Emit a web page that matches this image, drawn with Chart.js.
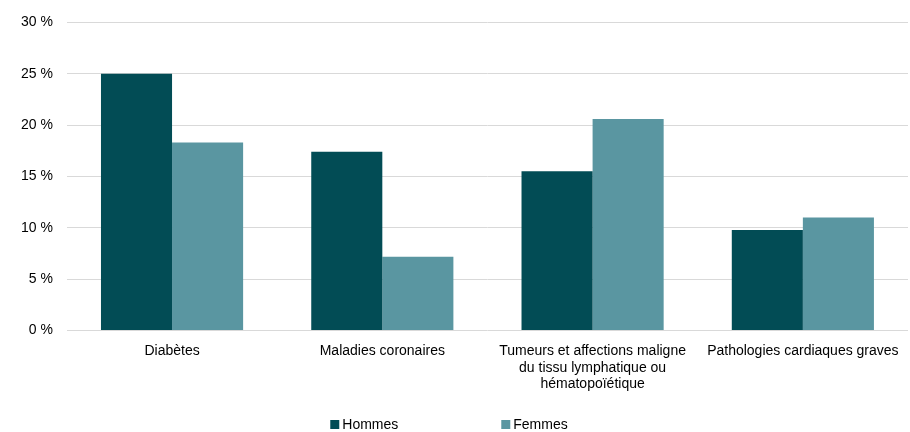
<!DOCTYPE html>
<html>
<head>
<meta charset="utf-8">
<script src="https://cdn.jsdelivr.net/npm/chart.js@4/dist/chart.umd.min.js"></script>
<style>
  body { margin: 0; background: #fff; }
  #wrap { width: 910px; height: 432px; }
</style>
</head>
<body>
<div id="wrap"><canvas id="chart" width="910" height="432"></canvas></div>
<script>
// categories and values (percent)
var categories = [
  "Diabètes",
  "Maladies coronaires",
  ["Tumeurs et affections maligne", "du tissu lymphatique ou", "hématopoïétique"],
  "Pathologies cardiaques graves"
];
var hommes = [25.0, 17.4, 15.5, 9.8];
var femmes = [18.3, 7.2, 20.6, 11.0];
var seriesNames = ["Hommes", "Femmes"];
var seriesColors = ["#024c55", "#5a96a1"];
var yTicks = [0, 5, 10, 15, 20, 25, 30];

Chart.defaults.font.family = "'Liberation Sans', Arial, sans-serif";
Chart.defaults.font.size = 14;
Chart.defaults.color = "#000";

// legend with wide gap between the two items, drawn at the bottom
var wideLegend = {
  id: "wideLegend",
  afterDraw: function (chart) {
    var ctx = chart.ctx;
    var gap = 103, box = 9, textGap = 3;
    ctx.save();
    ctx.font = "14px 'Liberation Sans', Arial, sans-serif";
    ctx.textBaseline = "middle";
    var widths = chart.data.datasets.map(function (ds) { return box + textGap + ctx.measureText(ds.label).width; });
    var total = widths.reduce(function (a, b) { return a + b; }, 0) + gap * (widths.length - 1);
    var x = chart.width / 2 - total / 2 - 6;
    var y = 425;
    chart.data.datasets.forEach(function (ds, i) {
      ctx.fillStyle = ds.backgroundColor;
      ctx.fillRect(x, y - 5, box, box);
      ctx.fillStyle = "#000";
      ctx.fillText(ds.label, x + box + textGap, y);
      x += widths[i] + gap;
    });
    ctx.restore();
  }
};

new Chart("chart", {
  type: "bar",
  data: {
    labels: categories,
    datasets: [
      { label: seriesNames[0], data: hommes, backgroundColor: seriesColors[0], barPercentage: 1, categoryPercentage: 0.676 },
      { label: seriesNames[1], data: femmes, backgroundColor: seriesColors[1], barPercentage: 1, categoryPercentage: 0.676 }
    ]
  },
  plugins: [wideLegend],
  options: {
    responsive: false,
    animation: false,
    layout: { padding: { top: 8, left: 7, right: 2, bottom: 35 } },
    plugins: {
      tooltip: { enabled: false },
      legend: { display: false }
    },
    scales: {
      x: {
        grid: { display: false },
        border: { display: false },
        ticks: { maxRotation: 0, autoSkip: false, padding: 4, font: { lineHeight: 1.2 } }
      },
      y: {
        min: 0,
        max: 30,
        afterBuildTicks: function (axis) {
          axis.ticks = yTicks.map(function (v) { return { value: v }; });
        },
        grid: { color: "#d9d9d9", lineWidth: 1, drawTicks: false },
        border: { display: false },
        ticks: {
          padding: 14,
          callback: function (v) { return v + " %"; }
        }
      }
    }
  }
});
</script>
</body>
</html>
